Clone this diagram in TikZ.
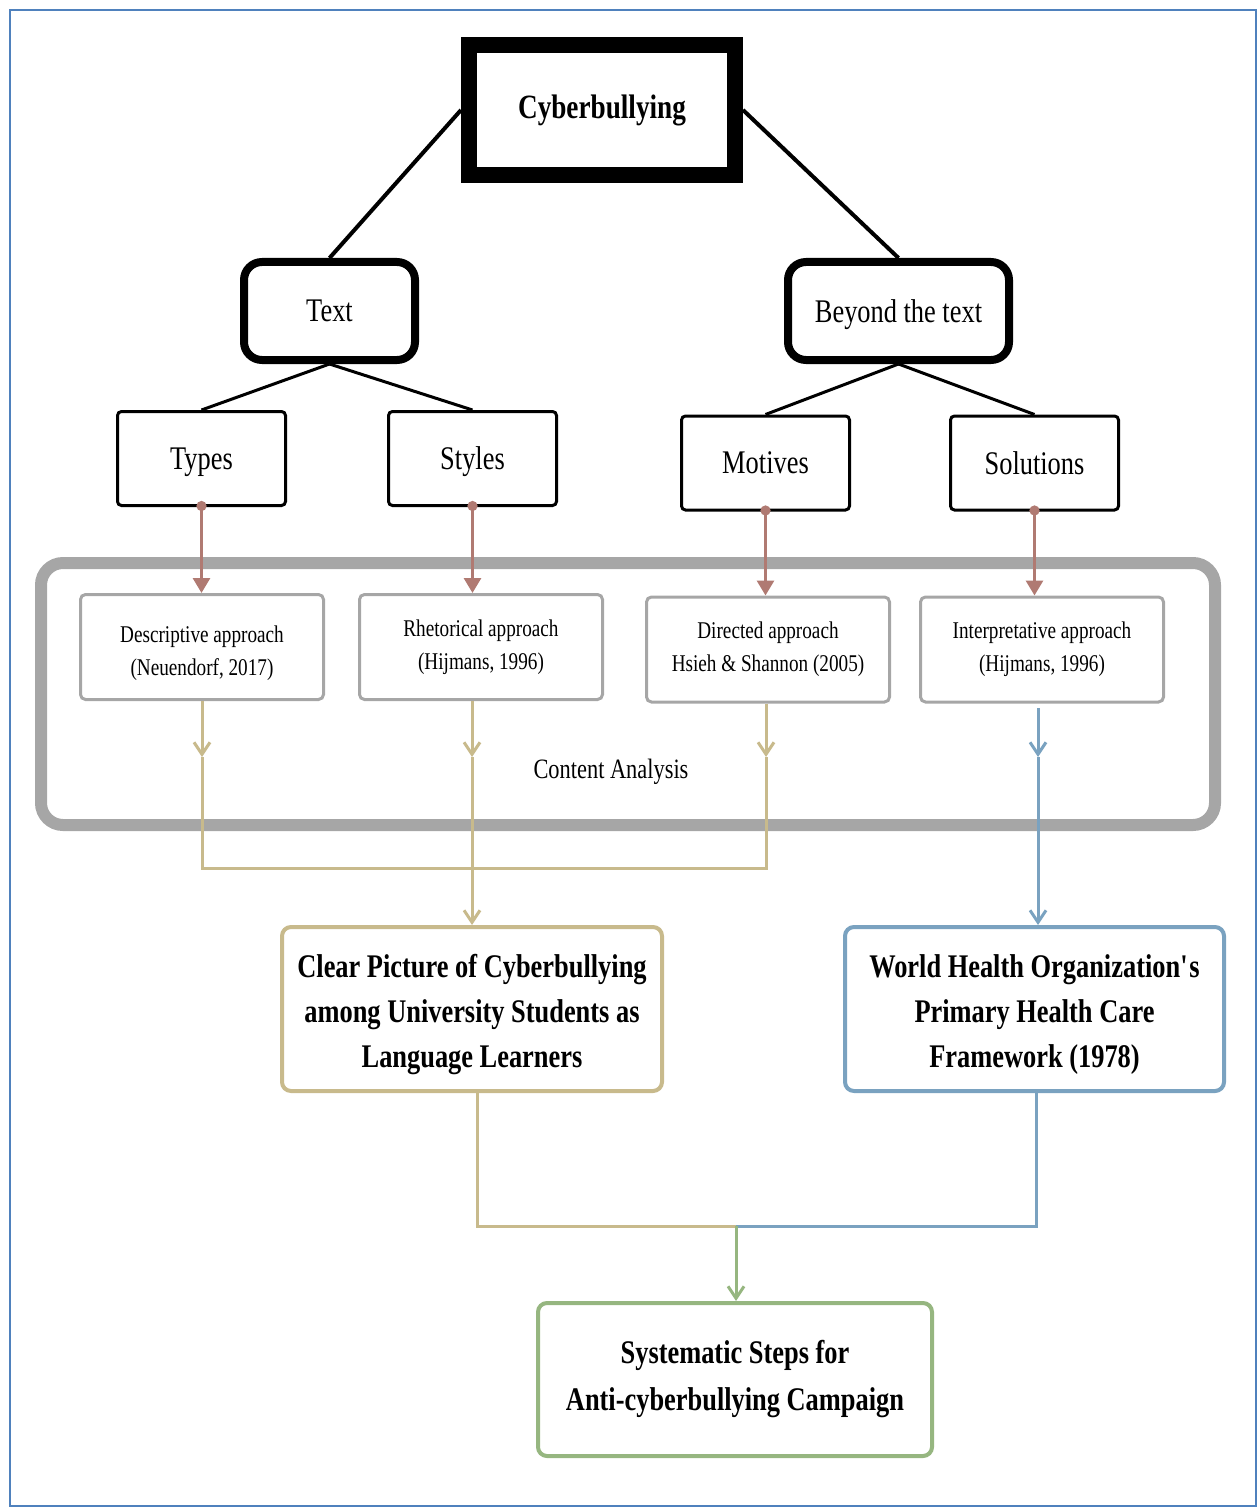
\documentclass[tikz,border=0pt]{standalone}
\usepackage{fontspec}
\setmainfont[FakeStretch=0.8]{Liberation Serif}
\usetikzlibrary{arrows.meta}
\definecolor{frameblue}{RGB}{79,129,189}
\definecolor{arrbrown}{RGB}{176,122,114}
\definecolor{boxgray}{RGB}{166,166,166}
\definecolor{tanline}{RGB}{200,186,140}
\definecolor{blueline}{RGB}{122,162,192}
\definecolor{greenline}{RGB}{150,182,128}
\newcommand{\lowerby}[1]{\rule{0pt}{#1}}

\begin{document}
\begin{tikzpicture}[x=1pt,y=-1pt,
  topbox/.style={draw,line width=16pt,minimum width=266pt,minimum height=130pt,inner sep=0pt,font=\fontsize{34}{40}\selectfont\bfseries},
  midbox/.style={draw,line width=8pt,rounded corners=18pt,minimum height=98pt,inner sep=0pt,text depth=0pt,font=\fontsize{33}{40}\selectfont},
  subbox/.style={draw,line width=3pt,rounded corners=4pt,minimum width=168pt,minimum height=94pt,inner sep=0pt,text depth=0pt,font=\fontsize{33}{40}\selectfont},
  appbox/.style={draw=boxgray,line width=3pt,rounded corners=5pt,minimum width=243pt,minimum height=105pt,inner sep=0pt,align=center,font=\fontsize{24}{33}\selectfont},
  outbox/.style={line width=4pt,rounded corners=9pt,minimum height=164pt,inner sep=0pt,align=center,font=\fontsize{33}{45}\selectfont\bfseries},
  link/.style={line width=4pt},
  brownarrow/.style={arrbrown,line width=3pt,{Circle[length=10pt]}-{Triangle[length=15pt,width=17pt]}},
  tanarrow/.style={tanline,line width=3pt,-{Straight Barb[length=12pt,width=16pt]}},
  bluearrow/.style={blueline,line width=3pt,-{Straight Barb[length=12pt,width=16pt]}},
  greenarrow/.style={greenline,line width=3pt,-{Straight Barb[length=12pt,width=16pt]}}
]
\useasboundingbox (0,0) rectangle (1259,1511);
\draw [frameblue,line width=2pt] (10,10) rectangle (1256,1506);

% container
\draw [boxgray,line width=12pt,rounded corners=22pt] (41,563) rectangle (1215,825);
\node (ca) at (611,772) {\fontsize{28}{34}\selectfont Content Analysis};

\node [topbox] (cyber) at (602,110) {Cyberbullying};
\node [midbox,minimum width=171pt] (text) at (329.5,311) {Text};
\node [midbox,minimum width=221pt] (beyond) at (898.5,311) {Beyond the text};

\node [subbox] (types) at (201.5,458.5) {Types};
\node [subbox] (styles) at (472.5,458.5) {Styles};
\node [subbox] (motives) at (765.5,463) {Motives};
\node [subbox] (solutions) at (1034.5,463) {Solutions};

\node [appbox] (desc) at (202,647) {\lowerby{30pt}Descriptive approach\\(Neuendorf, 2017)};
\node [appbox] (rhet) at (481,647) {Rhetorical approach\\(Hijmans, 1996)};
\node [appbox] (dir) at (768,649.5) {Directed approach\\Hsieh \& Shannon (2005)};
\node [appbox] (interp) at (1042,649.5) {Interpretative approach\\(Hijmans, 1996)};

\node [outbox,draw=tanline,minimum width=380pt] (clear) at (472,1009) {\lowerby{35pt}Clear Picture of Cyberbullying\\among University Students as\\Language Learners};
\node [outbox,draw=blueline,minimum width=379pt] (who) at (1034.5,1009) {\lowerby{35pt}World Health Organization\textquotesingle s\\Primary Health Care\\Framework (1978)};
\node [outbox,draw=greenline,minimum width=394pt,minimum height=153pt,font=\fontsize{33}{47}\selectfont\bfseries] (sys) at (735,1379.5) {Systematic Steps for\\Anti-cyberbullying Campaign};

\draw [link] (cyber.west) -- (text.north);
\draw [link] (cyber.east) -- (beyond.north);
\draw [line width=3pt] (text.south) -- (types.north);
\draw [line width=3pt] (text.south) -- (styles.north);
\draw [line width=3pt] (beyond.south) -- (motives.north);
\draw [line width=3pt] (beyond.south) -- (solutions.north);

\draw [brownarrow] ([yshift=6pt]types.south) -- (types.south |- desc.north);
\draw [brownarrow] ([yshift=6pt]styles.south) -- (styles.south |- rhet.north);
\draw [brownarrow] ([yshift=6pt]motives.south) -- (motives.south |- dir.north);
\draw [brownarrow] ([yshift=6pt]solutions.south) -- (solutions.south |- interp.north);

\coordinate (m1) at (202,757);
\coordinate (m2) at (472,757);
\coordinate (m3) at (766,757);
\coordinate (m4) at (1038,757);
\coordinate (jt) at (472,868);
\coordinate (jb) at (736,1226);

\draw [tanarrow] (m1 |- desc.south) -- (m1);
\draw [tanarrow] (m2 |- rhet.south) -- (m2);
\draw [tanarrow] (m3 |- dir.south) -- (m3);
\draw [bluearrow] (1038,708) -- (m4);
\draw [tanline,line width=3pt] (m1) |- (jt);
\draw [tanline,line width=3pt] (m3) |- (jt);
\draw [tanarrow] (m2) -- (m2 |- clear.north);
\draw [bluearrow] (m4) -- (m4 |- who.north);

\draw [tanline,line width=3pt] ([xshift=5pt]clear.south) |- (jb);
\draw [blueline,line width=3pt] ([xshift=2pt]who.south) |- (jb);
\draw [greenarrow] (jb) -- (jb |- sys.north);
\end{tikzpicture}
\end{document}
